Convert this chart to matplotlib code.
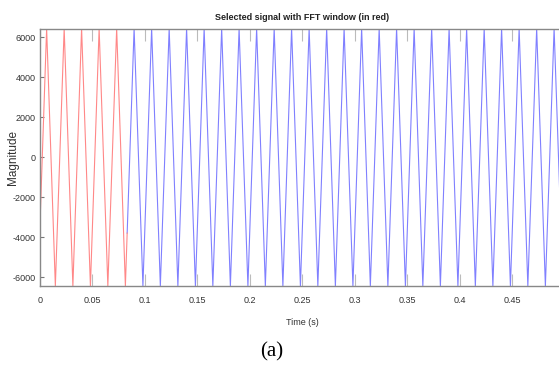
import matplotlib
matplotlib.use('Agg')
import matplotlib.pyplot as plt

# crest / trough times (s), 60 Hz tone
peak_t = [0.0066, 0.0233, 0.0399, 0.0566, 0.0733, 0.0899, 0.1066, 0.1233, 0.1399, 0.1566,
          0.1733, 0.1899, 0.2066, 0.2233, 0.2399, 0.2566, 0.2733, 0.2899, 0.3066, 0.3233,
          0.3399, 0.3566, 0.3733, 0.3899, 0.4066, 0.4233, 0.4399, 0.4566, 0.4733, 0.4899]
trough_t = [0.0149, 0.0316, 0.0483, 0.0649, 0.0816, 0.0983, 0.1149, 0.1316, 0.1483, 0.1649,
            0.1816, 0.1983, 0.2149, 0.2316, 0.2483, 0.2649, 0.2816, 0.2983, 0.3149, 0.3316,
            0.3483, 0.3649, 0.3816, 0.3983, 0.4149, 0.4316, 0.4483, 0.4649, 0.4816, 0.4983]
amp = 6450
start_val = -3800
window_end = 0.0833
window_end_val = -3800

xticks = [0, 0.05, 0.1, 0.15, 0.2, 0.25, 0.3, 0.35, 0.4, 0.45]
xtick_labels = ['0', '0.05', '0.1', '0.15', '0.2', '0.25', '0.3', '0.35', '0.4', '0.45']
yticks = [-6000, -4000, -2000, 0, 2000, 4000, 6000]
ytick_labels = ['-6000', '-4000', '-2000', '0', '2000', '4000', '6000']

# build the polyline of the signal
t = [0.0]
y = [start_val]
for p, tr in zip(peak_t, trough_t):
    t += [p, tr]
    y += [amp, -amp]

red_t = [v for v in t if v < window_end] + [window_end]
red_y = [y[i] for i, v in enumerate(t) if v < window_end] + [window_end_val]
blue_t = [window_end] + [v for v in t if v > window_end]
blue_y = [window_end_val] + [y[i] for i, v in enumerate(t) if v > window_end]

sans = ['Liberation Sans', 'DejaVu Sans']

fig = plt.figure(figsize=(5.59, 3.67), dpi=100)
ax = fig.add_axes([39.7 / 559, 1 - 286 / 367, 525 / 559, (286 - 28.5) / 367])

ax.plot(blue_t, blue_y, color='#8080ff', linewidth=0.8)
ax.plot(red_t, red_y, color='#ff8888', linewidth=0.8)

ax.set_xlim(0, 0.5)
ax.set_ylim(-amp, amp)

ax.set_xticks(xticks)
ax.set_xticklabels(xtick_labels, family=sans, fontsize=6.5, color='#333333')
ax.set_yticks(yticks)
ax.set_yticklabels(ytick_labels, family=sans, fontsize=6.5, color='#333333')

ax.tick_params(axis='x', direction='in', length=8.5, width=0.8, color='#bbbbbb',
               top=True, pad=7.5)
ax.tick_params(axis='y', direction='in', length=3, width=0.8, color='#777777', pad=3)

for side in ['left', 'top', 'bottom']:
    ax.spines[side].set_color('#888888')
    ax.spines[side].set_linewidth(1.0)
ax.spines['right'].set_visible(False)

ax.set_title('Selected signal with FFT window (in red)', family=sans, fontsize=6.5,
             fontweight='bold', color='#222222', pad=6)
ax.set_xlabel('Time (s)', family=sans, fontsize=6.5, color='#333333', labelpad=9)
ax.set_ylabel('Magnitude', family=sans, fontsize=8.5, color='#333333')
ax.yaxis.set_label_coords(-20.5 / 525, 0.5)

fig.text(272 / 559, 1 - 351.7 / 367, '(a)', family=['Liberation Serif', 'DejaVu Serif'],
         fontsize=15, ha='center', va='center')

fig.savefig('out.png', dpi=100)
